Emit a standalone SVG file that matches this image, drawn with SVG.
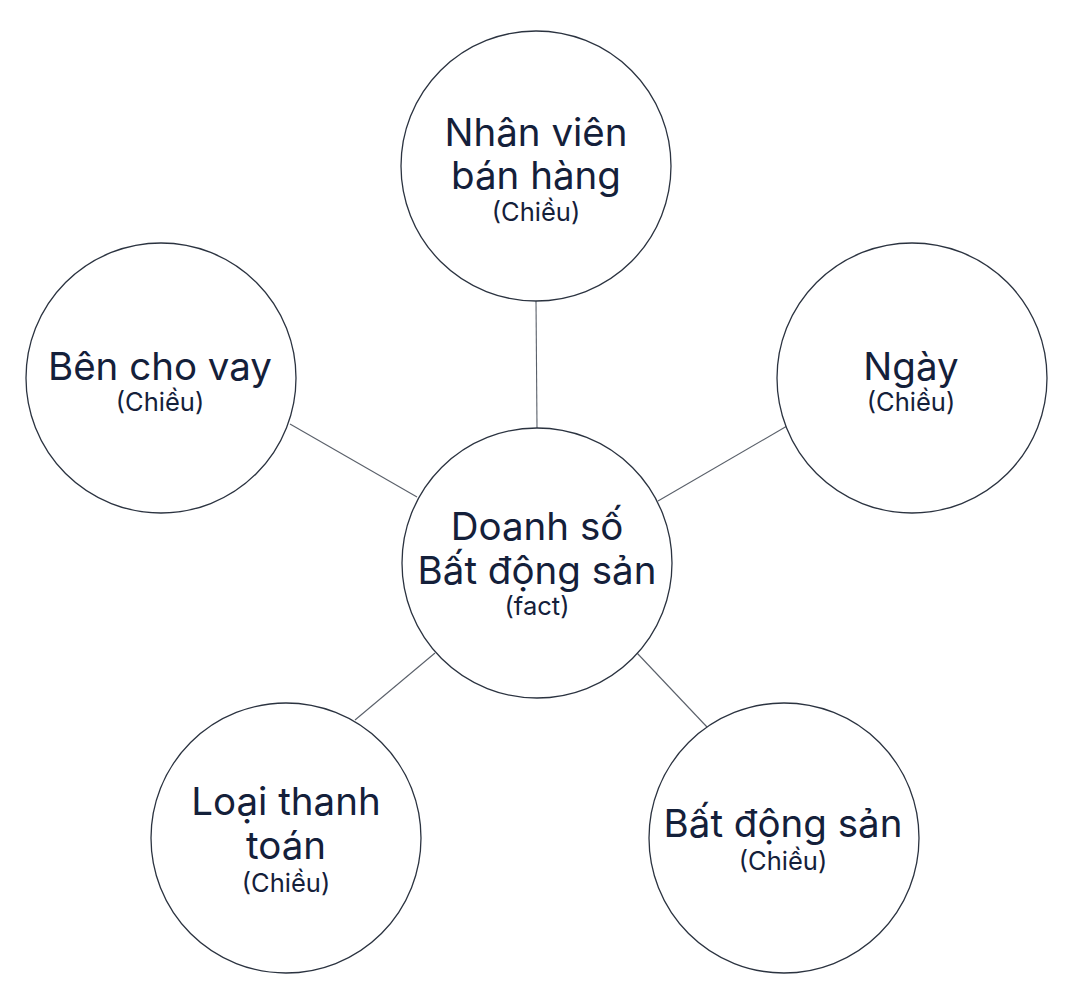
<svg xmlns="http://www.w3.org/2000/svg" width="1072" height="992" viewBox="0 0 1072 992">
<style>
.node{fill:#ffffff;stroke:#2b3340;stroke-width:1.3}
.edge{stroke:#5a606a;stroke-width:1.1;fill:none}
.t{font-family:Inter,"Open Sans","Noto Sans",sans-serif;fill:#14203a;text-anchor:middle}
.m{font-size:38.5px}
.s{font-size:25.5px}
</style>
<rect width="1072" height="992" fill="#ffffff"/>
<g id="connectors">
<line class="edge" x1="536" y1="301" x2="537" y2="428"/>
<line class="edge" x1="290" y1="424" x2="417" y2="497"/>
<line class="edge" x1="787" y1="426" x2="658" y2="501"/>
<line class="edge" x1="355" y1="720" x2="435" y2="653"/>
<line class="edge" x1="637" y1="653" x2="707" y2="727"/>
</g>
<g id="fact">
<circle class="node" cx="537" cy="563" r="135"/>
<text class="t m" x="537" y="540">Doanh số</text>
<text class="t m" x="537" y="584">Bất động sản</text>
<text class="t s" x="537" y="615">(fact)</text>
</g>
<g id="nhanvien">
<circle class="node" cx="536" cy="166" r="135"/>
<text class="t m" x="536" y="146">Nhân viên</text>
<text class="t m" x="536" y="189">bán hàng</text>
<text class="t s" x="536" y="221">(Chiều)</text>
</g>
<g id="benchovay">
<circle class="node" cx="161" cy="378" r="135"/>
<text class="t m" x="160" y="380">Bên cho vay</text>
<text class="t s" x="160" y="411">(Chiều)</text>
</g>
<g id="ngay">
<circle class="node" cx="912" cy="378" r="135"/>
<text class="t m" x="911" y="380">Ngày</text>
<text class="t s" x="911" y="411">(Chiều)</text>
</g>
<g id="loaithanhtoan">
<circle class="node" cx="286" cy="838" r="135"/>
<text class="t m" x="286" y="815">Loại thanh</text>
<text class="t m" x="286" y="859">toán</text>
<text class="t s" x="286" y="892">(Chiều)</text>
</g>
<g id="batdongsan">
<circle class="node" cx="784" cy="838" r="135"/>
<text class="t m" x="783" y="837">Bất động sản</text>
<text class="t s" x="783" y="870">(Chiều)</text>
</g>
</svg>
